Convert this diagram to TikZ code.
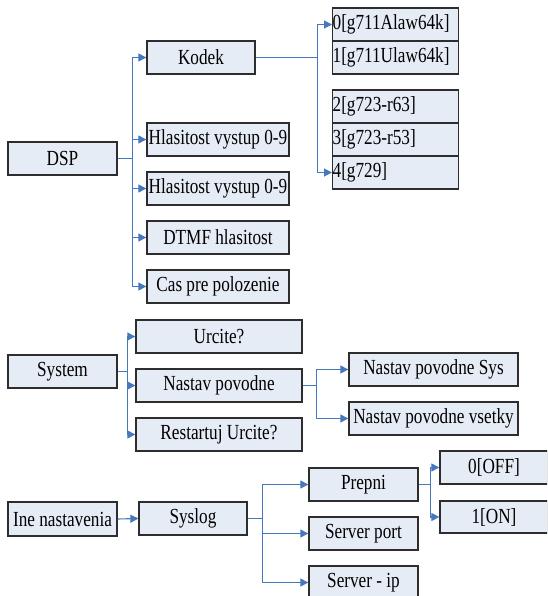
\documentclass[tikz,border=0pt]{standalone}
\usepackage{fontspec}
\setmainfont{Liberation Serif}
\newfontfamily\narrowserif[FakeStretch=0.8]{Liberation Serif}
\usetikzlibrary{arrows.meta}
\definecolor{boxfill}{RGB}{230,236,246}
\definecolor{boxline}{RGB}{45,45,45}
\definecolor{conncol}{RGB}{70,120,190}
\begin{document}
\begin{tikzpicture}[x=1pt,y=-1pt,
  box/.style={draw=boxline,fill=boxfill,line width=1.3pt,inner sep=0pt,
    font=\narrowserif\fontsize{21.5}{23}\selectfont},
  cell/.style={box,text width=#1,align=left},
  arr/.style={draw=conncol,line width=1.1pt,-{Triangle[length=8pt,width=8pt]}}]
\useasboundingbox (0,0) rectangle (547,596);
\clip (0,0) rectangle (547,596);
% boxes: center, width, height
\newcommand{\bx}[6][]{\node[box,minimum width=#4,minimum height=#5,#1] (#2) at #3 {#6};}
\bx{dsp}{(62.5,158.5)}{109}{33}{DSP}
\bx{kodek}{(201,57.5)}{108}{33}{Kodek}
\bx{h1}{(218,139.5)}{142}{33}{Hlasitost vystup 0-9}
\bx{h2}{(218,188.5)}{142}{33}{Hlasitost vystup 0-9}
\bx{dtmf}{(218,237.5)}{142}{33}{DTMF hlasitost}
\bx{cas}{(218,286.5)}{142}{33}{Cas pre polozenie}
% codec cells
\node[cell=126pt,minimum height=33pt,anchor=west] (c0) at (332,24.5) {0[g711Alaw64k]};
\node[cell=126pt,minimum height=33pt,anchor=west] (c1) at (332,57.5) {1[g711Ulaw64k]};
\node[cell=126pt,minimum height=33pt,anchor=west] (c2) at (332,106.5) {2[g723-r63]};
\node[cell=126pt,minimum height=33pt,anchor=west] (c3) at (332,139.5) {3[g723-r53]};
\node[cell=126pt,minimum height=33pt,anchor=west] (c4) at (332,172.5) {4[g729]};
% system
\bx{sys}{(62.5,371.5)}{109}{33}{System}
\bx{urc}{(219,336.5)}{166}{33}{Urcite?}
\bx{nav}{(219,385.5)}{166}{33}{Nastav povodne}
\bx{rst}{(219,434.5)}{166}{33}{Restartuj Urcite?}
\bx{navs}{(433.5,369.5)}{169}{33}{Nastav povodne Sys}
\bx{navv}{(433.5,418.5)}{169}{33}{Nastav povodne vsetky}
% ine
\bx{ine}{(62.5,519)}{109}{34}{Ine nastavenia}
\bx{slog}{(193,518.5)}{108}{33}{Syslog}
\bx{prep}{(363.5,484.5)}{109}{33}{Prepni}
\bx{sport}{(363.5,533.5)}{109}{33}{Server port}
\bx{sip}{(363.5,582.5)}{109}{33}{Server - ip}
\bx{off}{(494,467.5)}{108}{33}{0[OFF]}
\bx{on}{(494,517)}{108}{32}{1[ON]}
% connectors
\foreach \t in {kodek,h1,h2,dtmf,cas}
  \draw[arr] (dsp.east) -- ++(15,0) |- (\t.west);
\foreach \t in {c0,c4}
  \draw[arr] (kodek.east) -- ++(62,0) |- (\t.west);
\foreach \t in {urc,nav,rst}
  \draw[arr] (sys.east) -- ++(10,0) |- (\t.west);
\foreach \t in {navs,navv}
  \draw[arr] (nav.east) -- ++(14,0) |- (\t.west);
\draw[arr] (ine.east) -- (slog.west);
\foreach \t in {prep,sport,sip}
  \draw[arr] (slog.east) -- ++(15,0) |- (\t.west);
\foreach \t in {off,on}
  \draw[arr] (prep.east) -- ++(12,0) |- (\t.west);
\end{tikzpicture}
\end{document}
